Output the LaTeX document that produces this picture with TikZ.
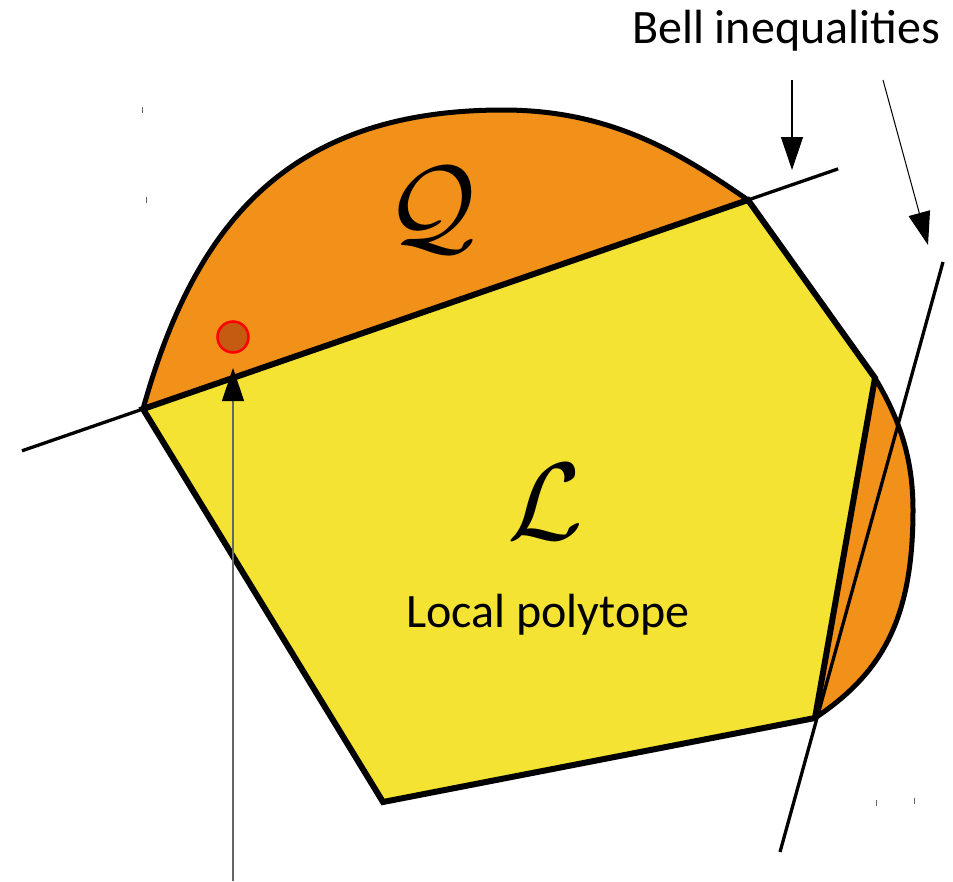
\documentclass[tikz,border=0pt]{standalone}
\usepackage{fontspec}
\setmainfont{Carlito}
\usetikzlibrary{arrows.meta,calc}
\definecolor{qorange}{RGB}{242,145,26}
\definecolor{lyellow}{RGB}{244,227,50}
\definecolor{dotfill}{RGB}{197,90,17}
\begin{document}
\begin{tikzpicture}[x=1pt,y=1pt,
  edge/.style={line width=6pt,line join=miter},
  rim/.style={line width=5pt},
  bell/.style={line width=3.3pt},
  pointer/.style={line width=1.2pt,-{Triangle[length=33pt,width=22pt,color=black]}},
  lbl/.style={font=\fontsize{48}{48}\selectfont,anchor=base,inner sep=0pt},
  setname/.style={inner sep=0pt,scale=11},
  tickmark/.style={line width=1pt,draw=black!60}]
\useasboundingbox (0,0) rectangle (953,-881);
% vertices of the local polytope
\coordinate (A) at (143,-409);
\coordinate (B) at (748,-200);
\coordinate (C) at (875,-378);
\coordinate (D) at (815,-718);
\coordinate (E) at (383,-802);
% top and right points of the quantum set
\coordinate (T) at (503,-110);
\coordinate (R) at (913,-510);
% Bell lines
\coordinate (b1s) at ($(A)!-0.2!(B)$);
\coordinate (b1e) at ($(A)!1.149!(B)$);
\coordinate (b2s) at (943,-262);
\coordinate (b2e) at (780,-852);
% quantum set
\fill[qorange] (A) .. controls (193,-230) and (283,-110) .. (T)
  .. controls (613,-110) and (682,-154.6) .. (B) -- (C)
  .. controls (900.7,-420.9) and (913,-460) .. (R)
  .. controls (913,-620) and (881.4,-673.6) .. (D) -- (E) -- cycle;
% local polytope
\fill[lyellow] (A) -- (B) -- (C) -- (D) -- (E) -- cycle;
% Bell inequality lines
\draw[bell] (b1s) -- (b1e);
\draw[bell] (b2s) -- (b2e);
% boundaries
\draw[rim] (A) .. controls (193,-230) and (283,-110) .. (T)
  .. controls (613,-110) and (682,-154.6) .. (B);
\draw[rim] (C) .. controls (900.7,-420.9) and (913,-460) .. (R)
  .. controls (913,-620) and (881.4,-673.6) .. (D);
\draw[edge] (A) -- (B) -- (C) -- (D) -- (E) -- cycle;
% point
\node[circle,minimum size=31pt,inner sep=0pt,fill=dotfill,draw=red,line width=2.5pt] (pt) at (233,-337) {};
% arrows
\coordinate (a1s) at (792,-80);
\coordinate (a1e) at (792,-170);
\coordinate (a2s) at (883,-80);
\coordinate (a2e) at (928,-245);
\coordinate (a3s) at (233,-881);
\coordinate (a3e) at (233,-368);
\draw[pointer] (a1s) -- (a1e);
\draw[pointer,line width=1pt] (a2s) -- (a2e);
\draw[pointer,draw=black!60] (a3s) -- (a3e);
% labels
\node[lbl] (bell) at (786,-43) {Bell inequalities};
\node[lbl] (loc) at (548,-627) {Local polytope};
\node[setname] (Q) at (431,-210) {$\mathcal{Q}$};
\node[setname] (L) at (545,-502) {$\mathcal{L}$};
% small tick marks
\draw[tickmark] (142.5,-107) -- (142.5,-113);
\draw[tickmark] (146,-197) -- (146,-203);
\draw[tickmark] (876,-800) -- (876,-806);
\draw[tickmark] (914,-798) -- (914,-804);
\end{tikzpicture}
\end{document}
